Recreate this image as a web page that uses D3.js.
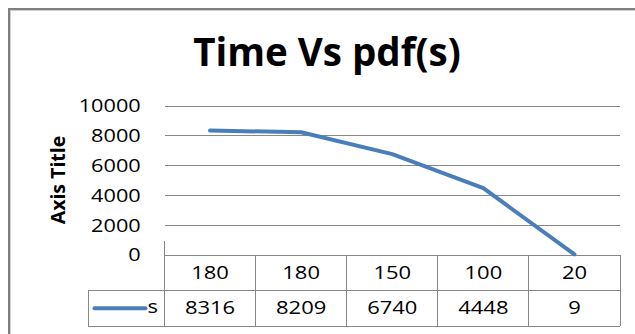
<!DOCTYPE html>
<html><head><meta charset="utf-8">
<script src="https://cdn.jsdelivr.net/npm/d3@7"></script>
<style>body{margin:0;background:#fff}svg{display:block}</style>
</head><body>
<script>
// ---- data ----
const categories = ["180", "180", "150", "100", "20"];
const seriesName = "s";
const values = [8316, 8209, 6740, 4448, 9];
const yTicks = [0, 2000, 4000, 6000, 8000, 10000];
const chartTitle = "Time Vs pdf(s)";
const axisTitle = "Axis Title";

// ---- layout ----
const W = 635, H = 334;
const plot = {l: 164.5, r: 620, t: 105.5, b: 254.5};
const rowH = 35.8;
const legendLeft = 88;
const gridColor = "#878787";
const lineColor = "#4a7ebb";
const font = "'Open Sans', sans-serif";
const sx = 1.27;

const svg = d3.select("body").append("svg").attr("width", W).attr("height", H);

// outer border (cropped at right/bottom)
svg.append("rect").attr("x", 9).attr("y", 9).attr("width", W + 20).attr("height", H + 20)
  .attr("fill", "none").attr("stroke", "#7f7f7f").attr("stroke-width", 2);
svg.append("rect").attr("x", 10.5).attr("y", 10.5).attr("width", W + 20).attr("height", H + 20)
  .attr("fill", "none").attr("stroke", "#cfcfcf").attr("stroke-width", 1);

const x = d3.scaleBand().domain(d3.range(categories.length)).range([plot.l, plot.r]);
const y = d3.scaleLinear().domain([0, 10000]).range([plot.b, plot.t]);

// title
svg.append("text").attr("x", 327).attr("y", 65.7).attr("text-anchor", "middle")
  .attr("font-family", font).attr("font-weight", "bold").attr("font-size", 38.5)
  .attr("fill", "#000").text(chartTitle);

// axis title
svg.append("text").attr("transform", "translate(65,180) rotate(-90)")
  .attr("text-anchor", "middle").attr("font-family", font).attr("font-weight", "bold")
  .attr("font-size", 19.5).attr("fill", "#000").text(axisTitle);

// y axis with gridlines
const yAxis = d3.axisLeft(y).tickValues(yTicks).tickSize(-(plot.r - plot.l)).tickFormat(d3.format("d"));
const gy = svg.append("g").attr("transform", `translate(${plot.l},0)`).call(yAxis);
gy.select(".domain").remove();
gy.selectAll(".tick line").attr("stroke", gridColor).attr("stroke-width", 1)
  .attr("shape-rendering", "crispEdges");
gy.selectAll(".tick text")
  .attr("font-family", font).attr("font-size", 17.8).attr("fill", "#000")
  .attr("x", -23.8 / 1.22).attr("dy", "0.36em")
  .attr("transform", "scale(1.22,1)");

// data table grid
const tbl = svg.append("g").attr("stroke", gridColor).attr("stroke-width", 1)
  .attr("shape-rendering", "crispEdges");
[1, 2].forEach(k => {
  tbl.append("line").attr("x1", legendLeft).attr("x2", plot.r)
    .attr("y1", plot.b + k * rowH).attr("y2", plot.b + k * rowH);
});
tbl.append("line").attr("x1", legendLeft).attr("x2", legendLeft)
  .attr("y1", plot.b + rowH).attr("y2", plot.b + 2 * rowH);
d3.range(categories.length + 1).forEach(i => {
  const xx = i < categories.length ? x(i) : x(categories.length - 1) + x.bandwidth();
  tbl.append("line").attr("x1", xx).attr("x2", xx)
    .attr("y1", i === 0 ? plot.b - 14 : plot.b).attr("y2", plot.b + 2 * rowH);
});

// table text
function stext(txt, cx, cy, anchor) {
  svg.append("text").attr("transform", `translate(${cx},${cy}) scale(${sx},1)`)
    .attr("text-anchor", anchor || "middle").attr("dy", "0.36em")
    .attr("font-family", font).attr("font-size", 17.3).attr("fill", "#000").text(txt);
}
categories.forEach((c, i) => stext(c, x(i) + x.bandwidth() / 2, plot.b + rowH / 2));
values.forEach((v, i) => stext(String(v), x(i) + x.bandwidth() / 2, plot.b + rowH * 1.5));

// legend key
const ly = plot.b + rowH * 1.5;
svg.append("line").attr("x1", 94.5).attr("x2", 145.5).attr("y1", ly).attr("y2", ly)
  .attr("stroke", lineColor).attr("stroke-width", 4).attr("stroke-linecap", "round");
stext(seriesName, 147.5, ly - 1, "start");

// series line
const line = d3.line().x((d, i) => x(i) + x.bandwidth() / 2).y(d => y(d));
svg.append("path").datum(values).attr("d", line).attr("fill", "none")
  .attr("stroke", lineColor).attr("stroke-width", 4)
  .attr("stroke-linecap", "round").attr("stroke-linejoin", "round");
</script>
</body></html>
